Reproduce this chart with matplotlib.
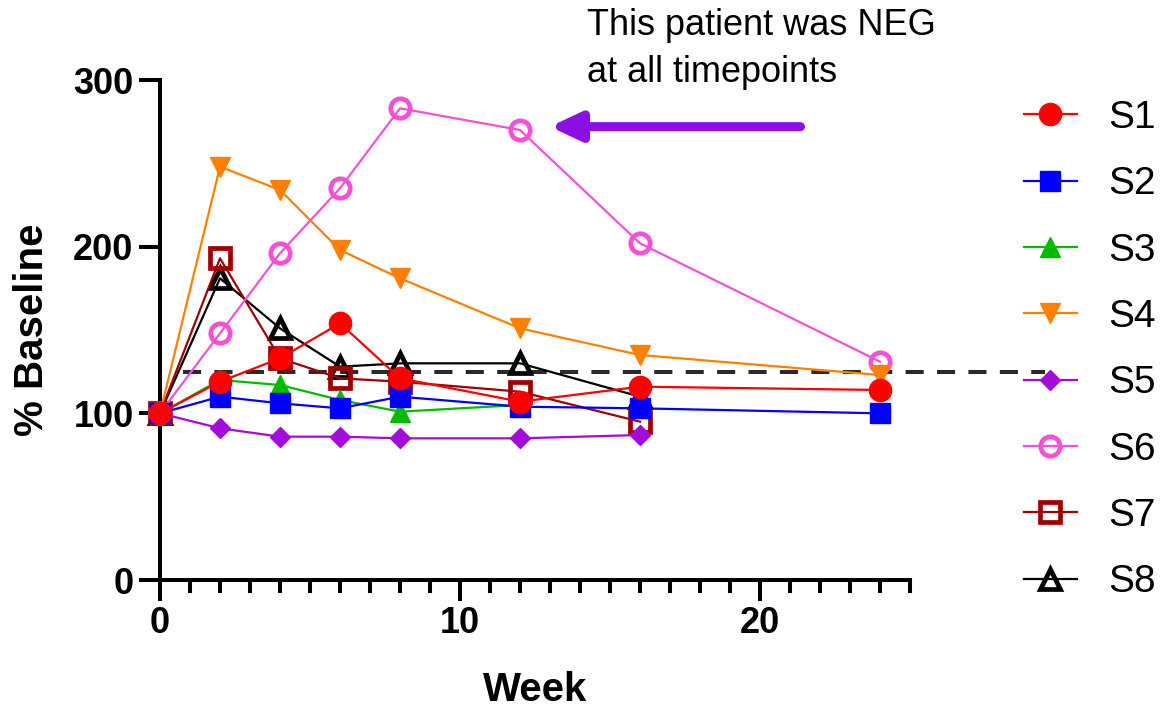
import matplotlib
matplotlib.use("Agg")
import matplotlib.pyplot as plt
from matplotlib.ticker import MultipleLocator

plt.rcParams['font.family'] = ['Liberation Sans', 'DejaVu Sans']

# ---- data ----
weeks_s1 = [0, 2, 4, 6, 8, 12, 16, 24]
s1 = [100, 119, 133, 154, 121, 107, 116, 114]
weeks_s2 = [0, 2, 4, 6, 8, 12, 16, 24]
s2 = [100, 110, 106, 103, 110, 104, 103, 100]
weeks_s3 = [0, 2, 4, 6, 8, 12]
s3 = [100, 120, 117, 108, 101, 105]
weeks_s4 = [0, 2, 4, 6, 8, 12, 16, 24]
s4 = [100, 248, 234, 198, 181, 151, 135, 123]
weeks_s5 = [0, 2, 4, 6, 8, 12, 16]
s5 = [100, 91, 86, 86, 85, 85, 87]
weeks_s6 = [0, 2, 4, 6, 8, 12, 16, 24]
s6 = [100, 148, 196, 235, 283, 270, 202, 131]
weeks_s7 = [0, 2, 4, 6, 8, 12, 16]
s7 = [100, 193, 133, 121, 119, 113, 95]
weeks_s8 = [0, 2, 4, 6, 8, 12, 16]
s8 = [100, 181, 151, 128, 130, 130, 110]

labels = ['S1', 'S2', 'S3', 'S4', 'S5', 'S6', 'S7', 'S8']
threshold = 125
annotation_text = "This patient was NEG\nat all timepoints"

series = [(weeks_s1, s1), (weeks_s2, s2), (weeks_s3, s3), (weeks_s4, s4),
          (weeks_s5, s5), (weeks_s6, s6), (weeks_s7, s7), (weeks_s8, s8)]

styles = [
    dict(color='#FF0000', marker='o', ms=16, mfc='#FF0000', mec='#FF0000', mew=1),
    dict(color='#0000FF', marker='s', ms=15, mfc='#0000FF', mec='#0000FF', mew=1),
    dict(color='#00BB00', marker='^', ms=15, mfc='#00BB00', mec='#00BB00', mew=1),
    dict(color='#FF8000', marker='v', ms=15, mfc='#FF8000', mec='#FF8000', mew=1),
    dict(color='#A50ADC', marker='D', ms=10, mfc='#A50ADC', mec='#A50ADC', mew=1),
    dict(color='#F550D8', marker='o', ms=14, mfc='none', mec='#F550D8', mew=3.4),
    dict(color='#A00000', marker='s', ms=14, mfc='none', mec='#A00000', mew=3.4),
    dict(color='#000000', marker='^', ms=15, mfc='none', mec='#000000', mew=3.4),
]

fig = plt.figure(figsize=(11.64, 7.09), dpi=100)
ax = fig.add_axes([160/1164, 1 - 580/709, 750/1164, 500/709])

handles = []
for i, ((x, y), lab, st) in enumerate(zip(series, labels, styles)):
    h, = ax.plot(x, y, lw=1.6, label=lab, zorder=20 - i, clip_on=False, **st)
    handles.append(h)

# dashed threshold line
ax.plot([0.76, 29.5], [threshold, threshold], color='#2a2a2a', lw=2.9,
        dashes=(4.5, 3.3), clip_on=False, zorder=5)

# annotation arrow and text
ax.annotate('', xy=(13.0, 272), xytext=(21.35, 272),
            arrowprops=dict(arrowstyle='-|>,head_length=1.8,head_width=0.85',
                            lw=6.5, color='#8A10E6', mutation_scale=10,
                            shrinkA=0, shrinkB=0),
            annotation_clip=False)
fig.text(587/1164, 1 - 82/709, annotation_text, fontsize=26, va='baseline',
         ha='left', linespacing=1.45)

ax.set_xlim(0, 25)
ax.set_ylim(0, 300)
ax.xaxis.set_major_locator(MultipleLocator(10))
ax.xaxis.set_minor_locator(MultipleLocator(1))
ax.set_yticks([0, 100, 200, 300])

for side in ['top', 'right']:
    ax.spines[side].set_visible(False)
for side in ['left', 'bottom']:
    ax.spines[side].set_linewidth(2.9)

ax.tick_params(axis='both', which='major', direction='out', length=15, width=2.9,
               labelsize=26, pad=4)
ax.tick_params(axis='x', which='minor', direction='out', length=9, width=2.9)
for lab in ax.get_xticklabels() + ax.get_yticklabels():
    lab.set_fontweight('bold')

ax.set_xlabel('Week', fontsize=29, fontweight='bold', labelpad=21)
ax.set_ylabel('% Baseline', fontsize=29, fontweight='bold', labelpad=16)

fig.legend(handles=handles, labels=labels, loc='upper left',
           bbox_to_anchor=(1024/1164, 1 - 100/709), frameon=False, fontsize=28,
           handlelength=1.36, handletextpad=0.8, labelspacing=0.78,
           borderpad=0, borderaxespad=0)

fig.savefig('out.png', dpi=100)
